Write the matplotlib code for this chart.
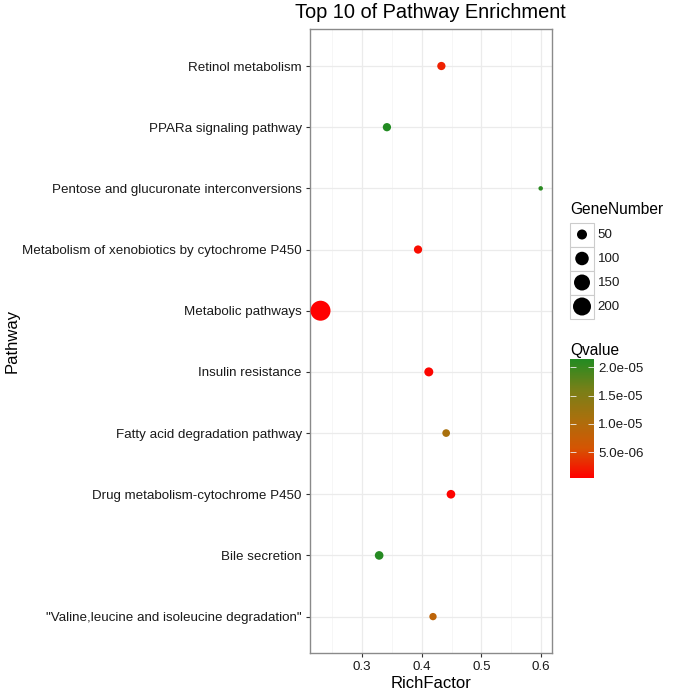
import numpy as np
import matplotlib
matplotlib.use("Agg")
import matplotlib.pyplot as plt
from matplotlib.colors import LinearSegmentedColormap
from matplotlib.patches import Rectangle
from matplotlib.ticker import FormatStrFormatter

plt.rcParams['font.family'] = ['Liberation Sans', 'DejaVu Sans']

# data
pathways = ["Retinol metabolism",
            "PPARa signaling pathway",
            "Pentose and glucuronate interconversions",
            "Metabolism of xenobiotics by cytochrome P450",
            "Metabolic pathways",
            "Insulin resistance",
            "Fatty acid degradation pathway",
            "Drug metabolism-cytochrome P450",
            "Bile secretion",
            '"Valine,leucine and isoleucine degradation"']
rich_factor = [0.433, 0.342, 0.599, 0.394, 0.231, 0.412, 0.441, 0.449, 0.329, 0.419]
gene_number = [34, 34, 20, 34, 257, 40, 30, 37, 37, 28]
q_value = [2.5e-6, 2.15e-5, 2.1e-5, 1.2e-6, 4e-7, 8e-7, 1.1e-5, 6e-7, 2.12e-5, 8.5e-6]

size_breaks = [50, 100, 150, 200]
q_breaks = [5e-6, 1e-5, 1.5e-5, 2e-5]

W, H = 675, 694


def px_box(x0, y0, x1, y1):
    return [x0 / W, 1 - y1 / H, (x1 - x0) / W, (y1 - y0) / H]


g_min, g_max = min(gene_number), max(gene_number)


def point_size(g):
    # area style scale like ggplot: diameter grows with sqrt of rescaled value
    r = (np.asarray(g, dtype=float) - g_min) / (g_max - g_min)
    d_px = 4.5 + 15.5 * np.sqrt(np.clip(r, 0, 1))
    return (d_px * 72 / 100) ** 2


cmap = LinearSegmentedColormap.from_list(
    "rg", [(0, "#FF0000"), (0.25, "#D55503"), (0.5, "#A9700D"),
           (0.75, "#768018"), (1, "#228B22")])

fig = plt.figure(figsize=(W / 100, H / 100), dpi=100)
ax = fig.add_axes(px_box(309.5, 29.3, 551.7, 653.3))

ypos = np.arange(len(pathways))[::-1]
sc = ax.scatter(rich_factor, ypos, s=point_size(gene_number), c=q_value,
                cmap=cmap, vmin=min(q_value), vmax=max(q_value),
                linewidths=0, zorder=3)

span = max(rich_factor) - min(rich_factor)
ax.set_xlim(min(rich_factor) - 0.05 * span, max(rich_factor) + 0.05 * span)
ax.set_ylim(-0.6, len(pathways) - 0.4)
ax.set_yticks(ypos)
ax.set_yticklabels(pathways)
ax.set_xticks([0.3, 0.4, 0.5, 0.6])
ax.set_xticks([0.25, 0.35, 0.45, 0.55], minor=True)

ax.grid(True, which='major', color='#ebebeb', lw=0.9)
ax.grid(True, which='minor', axis='x', color='#f3f3f3', lw=0.5)
ax.set_axisbelow(True)
ax.tick_params(which='major', length=3, width=0.8, color='#333333',
               labelsize=9.6, labelcolor='#1a1a1a', pad=2.5)
ax.tick_params(which='minor', length=0)
for sp in ax.spines.values():
    sp.set_color('#8a8a8a')
    sp.set_linewidth(1.0)

ax.set_xlabel('RichFactor', fontsize=12, va='center')
ax.xaxis.set_label_coords(0.5, (653.3 - 683) / 624)
ax.set_ylabel('Pathway', fontsize=12, va='center')
ax.yaxis.set_label_coords((12 - 309.5) / 242.2, 0.5)

fig.text(430 / W, 1 - 18 / H, 'Top 10 of Pathway Enrichment',
         ha='center', va='baseline', fontsize=14.4)

# size legend
fig.text(570 / W, 1 - 210 / H, 'GeneNumber', ha='left', va='center', fontsize=11.2)
lax = fig.add_axes(px_box(570, 222.5, 594, 318.5))
lax.set_xlim(0, 1)
lax.set_ylim(len(size_breaks), 0)
lax.axis('off')
for i, b in enumerate(size_breaks):
    lax.add_patch(Rectangle((0, i), 1, 1, facecolor='white',
                            edgecolor='#cccccc', lw=0.8, clip_on=False))
    lax.text(1.15, i + 0.5, str(b), ha='left', va='center', fontsize=9.6,
             color='#1a1a1a')
lax.scatter([0.5] * len(size_breaks), np.arange(len(size_breaks)) + 0.5,
            s=point_size(size_breaks), c='black', linewidths=0, clip_on=False,
            zorder=3)

# colour legend
fig.text(570 / W, 1 - 351 / H, 'Qvalue', ha='left', va='center', fontsize=11.2)
cax = fig.add_axes(px_box(570, 359, 594, 478))
cbar = fig.colorbar(sc, cax=cax)
cbar.outline.set_visible(False)
cbar.set_ticks(q_breaks)
cbar.ax.yaxis.set_major_formatter(FormatStrFormatter('%.1e'))
cax.tick_params(axis='y', direction='in', color='#f0f0f0', length=4.5, width=0.6,
                left=True, right=True, labelleft=False, labelright=True,
                labelsize=9.6, labelcolor='#1a1a1a', pad=3)

fig.savefig('out.png', dpi=100)
